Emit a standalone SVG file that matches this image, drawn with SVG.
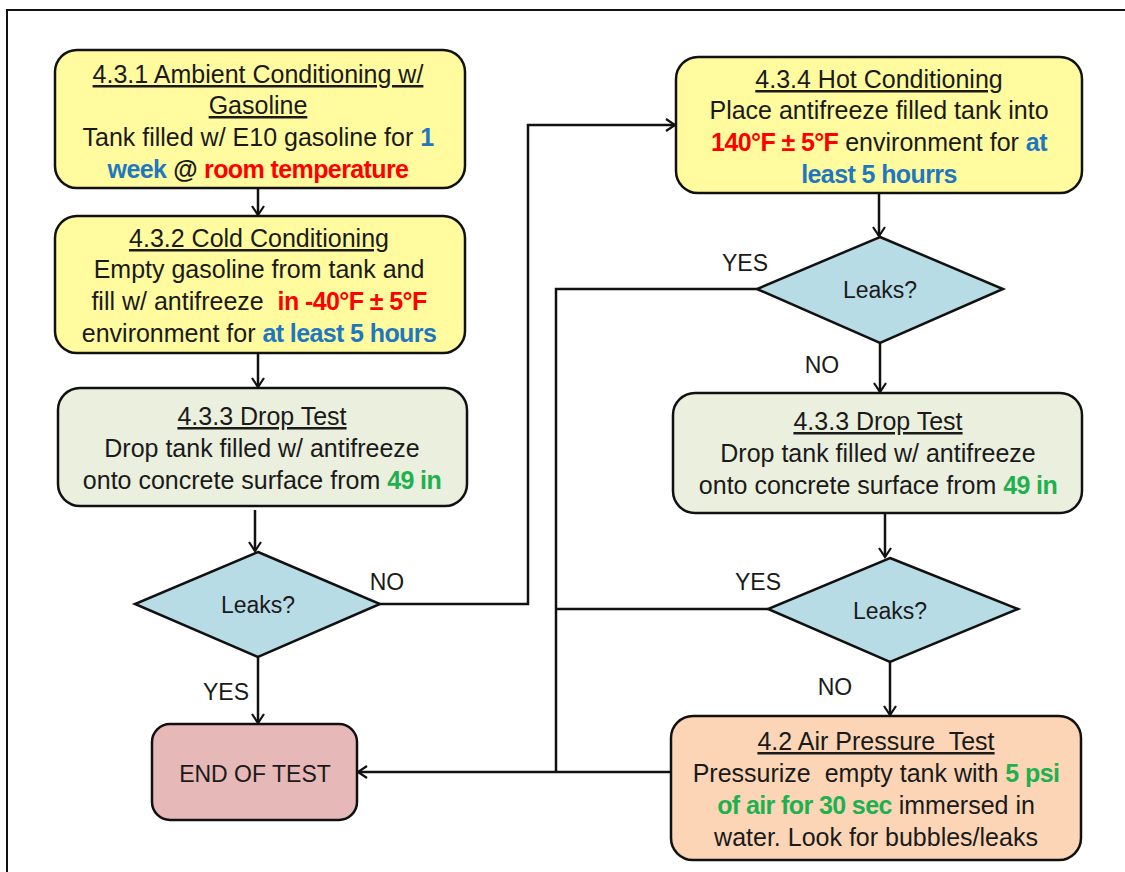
<svg xmlns="http://www.w3.org/2000/svg" width="1125" height="872" viewBox="0 0 1125 872">
<defs>
<style>
text{font-family:"Liberation Sans",Arial,sans-serif;font-size:25px;fill:#1a1a1a;text-anchor:middle;white-space:pre}
.t{text-decoration:underline}
.b{font-weight:bold;letter-spacing:-0.6px}
.blue{fill:#1f77c0}
.red{fill:#ff0000}
.green{fill:#1fb050}
.lbl{font-size:23px}
.box{stroke:#111;stroke-width:2.5}
.y{fill:#fffb9e}
.g{fill:#ebefde}
.d{fill:#b8dce6}
.p{fill:#e6b8b7}
.o{fill:#fbd5b5}
.c{fill:none;stroke:#111;stroke-width:2.5}
</style>
<marker id="ah" markerWidth="14" markerHeight="14" refX="11" refY="7" orient="auto" markerUnits="userSpaceOnUse">
<path d="M2,1 L11,7 L2,13" fill="none" stroke="#111" stroke-width="2.2"/>
</marker>
</defs>
<rect width="1125" height="872" fill="#fff"/>
<path d="M7,872 V10 H1125" fill="none" stroke="#111" stroke-width="2"/>

<g id="connectors">
<path class="c" d="M258,189 V215" marker-end="url(#ah)"/>
<path class="c" d="M258,353 V387" marker-end="url(#ah)"/>
<path class="c" d="M255,510 V551" marker-end="url(#ah)"/>
<path class="c" d="M258,657 V723" marker-end="url(#ah)"/>
<path class="c" d="M380,604 H528 V125 H675" marker-end="url(#ah)"/>
<path class="c" d="M879,193 V236" marker-end="url(#ah)"/>
<path class="c" d="M757,289 H556 V772"/>
<path class="c" d="M880,343 V392" marker-end="url(#ah)"/>
<path class="c" d="M885,513 V557" marker-end="url(#ah)"/>
<path class="c" d="M768,609 H556"/>
<path class="c" d="M890,662 V715" marker-end="url(#ah)"/>
<path class="c" d="M671,772 H358" marker-end="url(#ah)"/>
<text class="lbl" x="387" y="590">NO</text>
<text class="lbl" x="226" y="700">YES</text>
<text class="lbl" x="745" y="271">YES</text>
<text class="lbl" x="822" y="373">NO</text>
<text class="lbl" x="758" y="590">YES</text>
<text class="lbl" x="835" y="695">NO</text>
</g>

<g id="n431">
<rect class="box y" x="55" y="50" width="410" height="138" rx="22"/>
<text x="258" y="83" class="t">4.3.1 Ambient Conditioning w/</text>
<text x="258" y="114" class="t">Gasoline</text>
<text x="258" y="146">Tank filled w/ E10 gasoline for <tspan class="b blue">1</tspan></text>
<text x="258" y="178"><tspan class="b blue">week</tspan> <tspan class="b">@</tspan> <tspan class="b red">room temperature</tspan></text>
</g>

<g id="n432">
<rect class="box y" x="55" y="216" width="410" height="137" rx="22"/>
<text x="259" y="247" class="t">4.3.2 Cold Conditioning</text>
<text x="259" y="278">Empty gasoline from tank and</text>
<text x="259" y="310">fill w/ antifreeze  <tspan class="b red">in -40°F ± 5°F</tspan></text>
<text x="259" y="342">environment for <tspan class="b blue">at least 5 hours</tspan></text>
</g>

<g id="n433a">
<rect class="box g" x="58" y="388" width="409" height="118" rx="22"/>
<text x="262" y="425" class="t">4.3.3 Drop Test</text>
<text x="262" y="457">Drop tank filled w/ antifreeze</text>
<text x="262" y="489">onto concrete surface from <tspan class="b green">49 in</tspan></text>
</g>

<g id="leak1">
<polygon class="box d" points="258,552 380,604 258,657 135,604"/>
<text x="258" y="613" class="lbl">Leaks?</text>
</g>

<g id="end">
<rect class="box p" x="152" y="724" width="205" height="96" rx="18"/>
<text x="255" y="782" class="lbl">END OF TEST</text>
</g>

<g id="n434">
<rect class="box y" x="676" y="57" width="406" height="136" rx="22"/>
<text x="879" y="88" class="t">4.3.4 Hot Conditioning</text>
<text x="879" y="119">Place antifreeze filled tank into</text>
<text x="879" y="151"><tspan class="b red">140°F ± 5°F</tspan> environment for <tspan class="b blue">at</tspan></text>
<text x="879" y="183"><tspan class="b blue">least 5 hourrs</tspan></text>
</g>

<g id="leak2">
<polygon class="box d" points="880,237 1003,289 880,343 757,289"/>
<text x="880" y="298" class="lbl">Leaks?</text>
</g>

<g id="n433b">
<rect class="box g" x="673" y="393" width="409" height="120" rx="22"/>
<text x="878" y="430" class="t">4.3.3 Drop Test</text>
<text x="878" y="462">Drop tank filled w/ antifreeze</text>
<text x="878" y="494">onto concrete surface from <tspan class="b green">49 in</tspan></text>
</g>

<g id="leak3">
<polygon class="box d" points="890,558 1018,609 890,662 768,609"/>
<text x="890" y="619" class="lbl">Leaks?</text>
</g>

<g id="n42">
<rect class="box o" x="671" y="716" width="410" height="144" rx="22"/>
<text x="876" y="750" class="t">4.2 Air Pressure  Test</text>
<text x="876" y="782">Pressurize  empty tank with <tspan class="b green">5 psi</tspan></text>
<text x="876" y="814"><tspan class="b green">of air for 30 sec</tspan> immersed in</text>
<text x="876" y="846">water. Look for bubbles/leaks</text>
</g>
</svg>
